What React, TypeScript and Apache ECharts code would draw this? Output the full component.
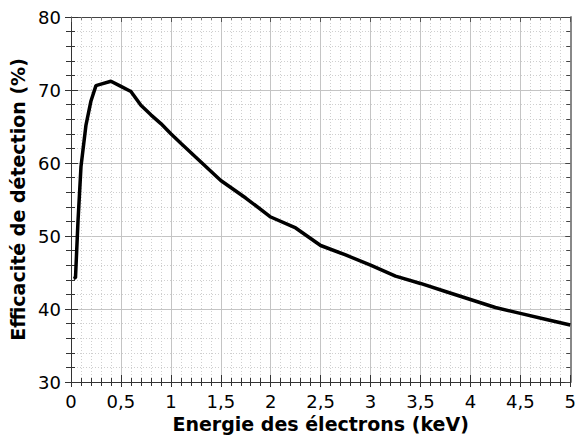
import React, { useEffect, useRef } from "react";
import * as echarts from "echarts";

const energyKeV = [0.025, 0.045, 0.07, 0.1, 0.15, 0.2, 0.25, 0.3, 0.4, 0.5, 0.6, 0.7, 0.8, 0.9, 1.0, 1.1, 1.25, 1.5, 1.75, 2.0, 2.25, 2.5, 2.75, 3.0, 3.25, 3.5, 3.75, 4.0, 4.25, 4.5, 4.75, 5.0];
const efficiency = [44.2, 44.3, 52.0, 59.5, 65.2, 68.5, 70.6, 70.8, 71.2, 70.5, 69.8, 67.9, 66.6, 65.4, 64.0, 62.7, 60.8, 57.6, 55.2, 52.6, 51.1, 48.7, 47.4, 46.0, 44.5, 43.5, 42.4, 41.3, 40.2, 39.4, 38.6, 37.8];
const xTitle = "Energie des électrons (keV)";
const yTitle = "Efficacité de détection (%)";

const FONT = "DejaVu Sans, Verdana, sans-serif";

export default function App() {
  const ref = useRef<HTMLDivElement>(null);
  useEffect(() => {
    if (!ref.current) return;
    const chart = echarts.init(ref.current, null, { renderer: "svg" });
    const fmt = (v: number) => String(v).replace(".", ",");
    const hidden = { show: false };
    chart.setOption({
      animation: false,
      grid: { left: 71, top: 17, right: 6, bottom: 61, containLabel: false },
      xAxis: [
        {
          type: "value", min: 0, max: 5, interval: 0.5, position: "bottom",
          name: xTitle, nameLocation: "middle", nameGap: 30,
          nameTextStyle: { fontFamily: FONT, fontSize: 19, fontWeight: "bold", color: "#000" },
          axisLine: { show: true, onZero: false, lineStyle: { color: "#333", width: 1 } },
          axisTick: { show: true, length: 5, lineStyle: { color: "#333" } },
          minorTick: { show: true, splitNumber: 5, length: 4, lineStyle: { color: "#333" } },
          axisLabel: { fontFamily: FONT, fontSize: 18, color: "#000", margin: 10, formatter: fmt },
          splitLine: { show: true, lineStyle: { color: "#c4c4c4", width: 1 } },
          minorSplitLine: { show: true, lineStyle: { color: "#cfcfcf", type: [1, 2], width: 1 } },
        },
        {
          type: "value", min: 0, max: 5, interval: 0.5, position: "bottom",
          axisLine: hidden,
          axisTick: { show: true, inside: true, length: 7, lineStyle: { color: "#333" } },
          minorTick: { show: true, splitNumber: 5, length: 4, lineStyle: { color: "#333" } },
          axisLabel: hidden, splitLine: hidden,
        },
        {
          type: "value", min: 0, max: 5, interval: 0.5, position: "top",
          axisLine: { show: true, onZero: false, lineStyle: { color: "#444", width: 1 } },
          axisTick: { show: true, inside: true, length: 5, lineStyle: { color: "#555" } },
          minorTick: { show: true, splitNumber: 5, length: 3, lineStyle: { color: "#777" } },
          axisLabel: hidden, splitLine: hidden,
        },
      ],
      yAxis: [
        {
          type: "value", min: 30, max: 80, interval: 10, position: "left",
          name: yTitle, nameLocation: "middle", nameGap: 40,
          nameTextStyle: { fontFamily: FONT, fontSize: 19, fontWeight: "bold", color: "#000" },
          axisLine: { show: true, onZero: false, lineStyle: { color: "#333", width: 1 } },
          axisTick: { show: true, length: 6, lineStyle: { color: "#333" } },
          minorTick: { show: true, splitNumber: 5, length: 5, lineStyle: { color: "#333" } },
          axisLabel: { fontFamily: FONT, fontSize: 18, color: "#000", margin: 10 },
          splitLine: { show: true, lineStyle: { color: "#c4c4c4", width: 1 } },
          minorSplitLine: { show: true, lineStyle: { color: "#cfcfcf", type: [1, 2], width: 1 } },
        },
        {
          type: "value", min: 30, max: 80, interval: 10, position: "left",
          axisLine: hidden,
          axisTick: { show: true, inside: true, length: 7, lineStyle: { color: "#333" } },
          minorTick: { show: true, splitNumber: 5, length: 4, lineStyle: { color: "#333" } },
          axisLabel: hidden, splitLine: hidden,
        },
        {
          type: "value", min: 30, max: 80, interval: 10, position: "right",
          axisLine: { show: true, onZero: false, lineStyle: { color: "#888", width: 2 } },
          axisTick: { show: true, inside: true, length: 5, lineStyle: { color: "#444" } },
          minorTick: { show: true, splitNumber: 5, length: 4, lineStyle: { color: "#444" } },
          axisLabel: hidden, splitLine: hidden,
        },
      ],
      series: [
        {
          type: "line",
          xAxisIndex: 0,
          yAxisIndex: 0,
          data: energyKeV.map((e, i) => [e, efficiency[i]]),
          showSymbol: false,
          lineStyle: { color: "#000", width: 3.5 },
          smooth: false,
        },
      ],
    });
    return () => chart.dispose();
  }, []);
  return <div ref={ref} style={{ position: "absolute", left: 0, top: 0, width: 579, height: 443 }} />;
}
